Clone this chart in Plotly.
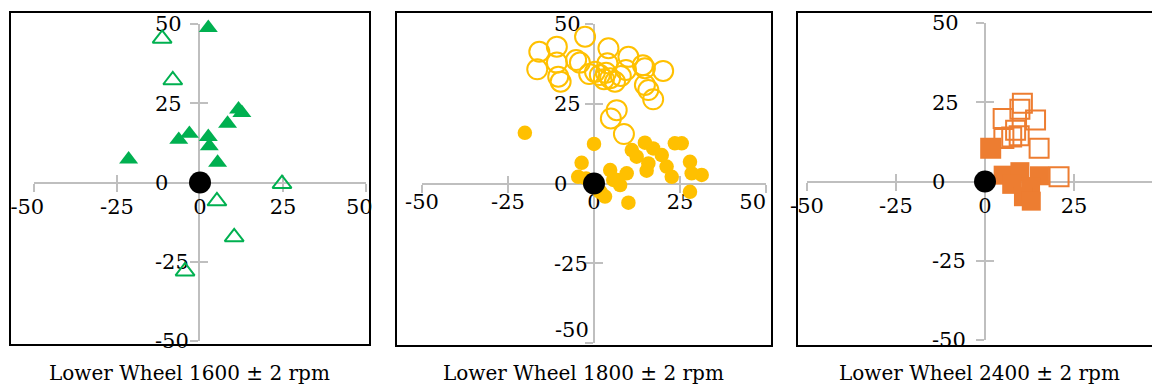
import plotly.graph_objects as go

W, H = 1152, 385

# ---------------- data ----------------
titles = ["Lower Wheel 1600 ± 2 rpm", "Lower Wheel 1800 ± 2 rpm", "Lower Wheel 2400 ± 2 rpm"]
tick_vals = [-50, -25, 0, 25, 50]

# panel 1 (green triangles)
p1_filled_x = [2.5, 11.6, 12.6, 8.3, -3.2, -6.4, 2.5, 2.8, 5.3, -21.5]
p1_filled_y = [48.8, 23.1, 22.0, 18.6, 15.4, 13.5, 14.4, 11.5, 6.3, 7.3]
p1_open_x = [-11.4, -8.2, 24.7, 5.1, 10.3, -4.5]
p1_open_y = [45.4, 32.3, -0.4, -5.9, -17.2, -28.0]

# panel 2 (yellow circles)
p2_open_x = [-2.6, -15.9, -10.8, -16.5, -10.8, -10.4, -9.7, -5.2, -4.1, -1.4,
             4.2, 3.9, 3.5, 2.9, 4.7, 6.1, 1.7, 10.0, 9.3, 7.8,
             14.2, 14.8, 20.1, 14.8, 15.8, 17.2, 6.6, 4.9, 8.7, 0.3]
p2_open_y = [46.0, 41.3, 42.9, 35.8, 37.9, 33.5, 31.9, 38.7, 37.9, 34.3,
             42.4, 37.7, 34.7, 32.7, 33.0, 31.9, 34.0, 39.7, 35.6, 33.7,
             37.1, 36.1, 35.3, 30.9, 29.3, 26.4, 23.0, 20.4, 15.5, 35.0]
p2_filled_x = [-20.1, 0.0, -3.6, -4.6, -2.3, 1.7, 3.2, 4.7, 5.6, 7.6,
               9.5, 10.0, 11.0, 12.4, 14.8, 15.3, 15.8, 17.2, 19.7, 21.1,
               22.6, 23.5, 25.5, 27.9, 28.4, 27.9, 31.3, 6.8, 1.9]
p2_filled_y = [15.9, 12.4, 6.5, 2.1, 1.6, -2.6, -4.1, 4.2, 1.1, -0.5,
               3.2, -6.0, 10.5, 8.4, 12.8, 4.0, 6.3, 11.0, 8.9, 5.3,
               2.1, 12.6, 12.6, 6.8, 3.2, -2.6, 2.7, 1.1, -2.6]

# panel 3 (orange squares)
p3_open_x = [10.5, 9.8, 5.1, 14.2, 8.6, 5.3, 9.6, 1.6, 15.2, 20.8, 7.5]
p3_open_y = [24.7, 22.8, 19.9, 19.4, 16.2, 13.6, 14.4, 10.5, 10.5, 1.5, 14.0]
p3_filled_x = [1.6, 5.1, 9.8, 15.3, 7.5, 12.8, 10.8, 13.0]
p3_filled_y = [10.5, 2.0, 3.1, 1.8, -0.9, -1.6, -4.8, -6.2]

origin_x = [0]
origin_y = [0]

# ---------------- styling helpers ----------------
inv = "<span style='color:rgba(0,0,0,0)'>%s</span>"
xtexts = [
    ["-50" + inv % "0", "-25", "0", "25", "50" + inv % "0"],
    ["-50", "-25", "0", "25", "50" + inv % "50"],
    ["-50", "-25", "0", "25", "50"],
]
ytexts = [
    ["-50", "-25", "0" + inv % "-5", "25" + inv % "-", "50" + inv % "-"],
    ["", "-25", "0" + inv % "-5", "25" + inv % "-", "50" + inv % "-"],
    ["-50", "-25", "0" + inv % "-5", "25" + inv % "-", "50" + inv % "-"],
]
# panel 2's lowest y label sits higher than its tick
p2_low_val = [-50]
p2_low_text = ["-50"]

# ---------------- layout geometry (pixels) ----------------
panels = [
    dict(xd=(34, 366), xr=[-50, 50], yd=(24, 341), zero_px=199, frame=(10, 12, 370, 345),
         tcx=189, ystand=-3, xstand=-3),
    dict(xd=(422, 766), xr=[-50, 50], yd=(24, 343), zero_px=594, frame=(396, 12, 772, 346),
         tcx=583, ystand=-7, xstand=-9),
    dict(xd=(807, 1152), xr=[-50, (1152 - 985) / 3.56], yd=(23, 340), zero_px=985, frame=(797, 12, 1175, 346),
         tcx=979, ystand=6, xstand=-3),
]

GREEN = "#00B050"
YELLOW = "#FFC000"
ORANGE = "#ED7D31"
AXC = "#BFBFBF"
FONT = "DejaVu Serif"
TICK_SIZE = 21
TITLE_SIZE = 20

fig = go.Figure()

def ax_names(i):
    s = "" if i == 0 else str(i + 1)
    return "x" + s, "y" + s

series = [
    [(p1_open_x, p1_open_y, "triangle-up-open", GREEN, 16.5),
     (p1_filled_x, p1_filled_y, "triangle-up", GREEN, 16.5)],
    [(p2_open_x, p2_open_y, "circle-open", YELLOW, 20),
     (p2_filled_x, p2_filled_y, "circle", YELLOW, 14.5)],
    [(p3_open_x, p3_open_y, "square-open", ORANGE, 19),
     (p3_filled_x, p3_filled_y, "square", ORANGE, 19)],
]

for i, sl in enumerate(series):
    xa, ya = ax_names(i)
    for xs, ys, sym, col, sz in sl:
        fig.add_trace(go.Scatter(x=xs, y=ys, mode="markers", xaxis=xa, yaxis=ya,
                                 cliponaxis=False, showlegend=False, hoverinfo="skip",
                                 marker=dict(symbol=sym, color=col, size=sz,
                                             line=dict(width=2 if "open" in sym else 0, color=col))))
    fig.add_trace(go.Scatter(x=origin_x, y=origin_y, mode="markers", xaxis=xa, yaxis=ya,
                             cliponaxis=False, showlegend=False, hoverinfo="skip",
                             marker=dict(symbol="circle", color="black", size=22, line=dict(width=0))))
    fig.add_trace(go.Scatter(x=[None], y=[None], xaxis="x" + str(i + 4), yaxis=ya,
                             showlegend=False, hoverinfo="skip"))
    fig.add_trace(go.Scatter(x=[None], y=[None], xaxis=xa, yaxis="y" + str(i + 4),
                             showlegend=False, hoverinfo="skip"))
# extra label axis for panel 2
fig.add_trace(go.Scatter(x=[None], y=[None], xaxis="x2", yaxis="y7",
                         showlegend=False, hoverinfo="skip"))

layout = dict(width=W, height=H, margin=dict(l=0, r=0, t=0, b=0, pad=0, autoexpand=False),
              paper_bgcolor="white", plot_bgcolor="rgba(0,0,0,0)", showlegend=False,
              font=dict(family=FONT, size=TICK_SIZE, color="black"))

shapes = []
annotations = []
for i, p in enumerate(panels):
    xs = "" if i == 0 else str(i + 1)
    xdom = [p["xd"][0] / W, min(1, p["xd"][1] / W)]
    ydom = [1 - p["yd"][1] / H, 1 - p["yd"][0] / H]
    ypos = (ydom[0] + ydom[1]) / 2
    xpos = p["zero_px"] / W
    common = dict(showgrid=False, zeroline=False, showline=True, linecolor=AXC, linewidth=2,
                  tickcolor=AXC, tickwidth=2, ticklen=8, tickmode="array", tickvals=tick_vals,
                  fixedrange=True, automargin=False, layer="below traces")
    layout["xaxis" + xs] = dict(common, domain=xdom, range=p["xr"], anchor="free", position=ypos,
                                ticks="outside", ticktext=xtexts[i], ticklabelstandoff=p["xstand"],
                                tickfont=dict(family=FONT, size=TICK_SIZE))
    layout["yaxis" + xs] = dict(common, domain=ydom, range=[-50, 50], anchor="free", position=xpos,
                                ticks="outside", ticktext=ytexts[i], ticklabelstandoff=p["ystand"],
                                tickfont=dict(family=FONT, size=TICK_SIZE))
    layout["xaxis" + str(i + 4)] = dict(common, range=p["xr"], overlaying="x" + xs, anchor="free",
                                        position=ypos, ticks="inside", showticklabels=False,
                                        showline=False)
    layout["yaxis" + str(i + 4)] = dict(common, range=[-50, 50], overlaying="y" + xs, anchor="free",
                                        position=xpos, ticks="inside", showticklabels=False,
                                        showline=False)
    if i == 1:
        layout["yaxis7"] = dict(common, range=[-50, 50], overlaying="y2", anchor="free",
                                position=xpos, ticks="outside", tickcolor="rgba(0,0,0,0)",
                                showline=False, tickvals=p2_low_val, ticktext=p2_low_text,
                                ticklabelstandoff=p["ystand"], ticklabelshift=-13,
                                tickfont=dict(family=FONT, size=TICK_SIZE))
    fx0, fy0, fx1, fy1 = p["frame"]
    shapes.append(dict(type="rect", xref="paper", yref="paper", x0=fx0 / W, x1=fx1 / W,
                       y0=1 - fy1 / H, y1=1 - fy0 / H, line=dict(color="black", width=2),
                       fillcolor="rgba(0,0,0,0)", layer="above"))
    annotations.append(dict(text=titles[i], xref="paper", yref="paper", x=p["tcx"] / W,
                            y=1 - 373 / H, xanchor="center", yanchor="middle", showarrow=False,
                            font=dict(family=FONT, size=TITLE_SIZE, color="black")))

layout["shapes"] = shapes
layout["annotations"] = annotations
fig.update_layout(**layout)
fig.write_html("out.html", config={"displayModeBar": False, "staticPlot": True},
               post_script="document.body.style.margin='0';document.body.style.overflow='hidden';")
